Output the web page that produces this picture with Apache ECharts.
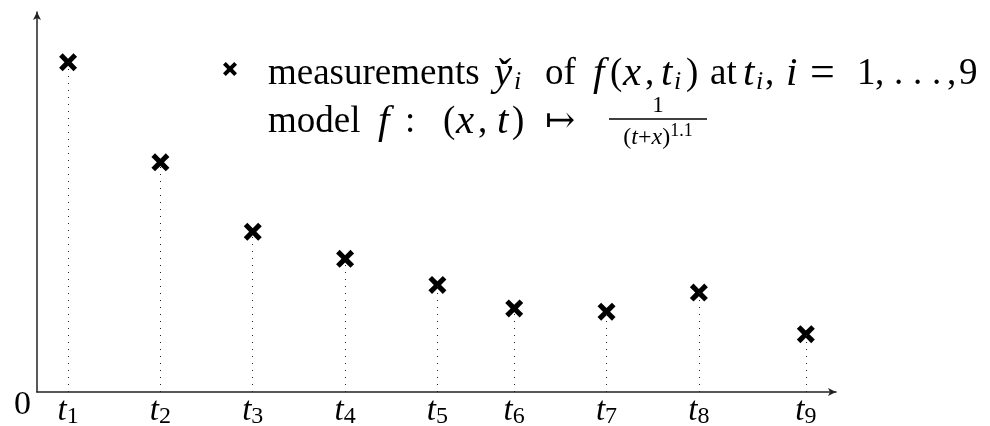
<!DOCTYPE html>
<html>
<head>
<meta charset="utf-8">
<script src="https://cdn.jsdelivr.net/npm/echarts@6/dist/echarts.min.js"></script>
<style>
  html, body { margin: 0; padding: 0; background: #fff; }
  #chart { width: 990px; height: 426px; }
</style>
</head>
<body>
<div id="chart"></div>
<script>
// Sample times t_i and the measured values y_i at those times
const tValues = [0.34, 1.35, 2.36, 3.37, 4.38, 5.22, 6.23, 7.24, 8.41];
const yMeasured = [0.998, 0.695, 0.485, 0.403, 0.324, 0.253, 0.243, 0.301, 0.175];
const tickSubscripts = ['1', '2', '3', '4', '5', '6', '7', '8', '9'];
const originLabel = '0';

// bold "x" marker
const CROSS = 'path://M0,2L2,0L5,3L8,0L10,2L7,5L10,8L8,10L5,7L2,10L0,8L3,5Z';

const SERIF = 'Liberation Serif';
const INK = '#000';
const LH = 40;

const baseStyles = {
  rm:  { fontFamily: SERIF, fontSize: 37, color: INK, lineHeight: LH },
  it:  { fontFamily: SERIF, fontSize: 41, fontStyle: 'italic', color: INK, lineHeight: LH },
  sub: { fontFamily: SERIF, fontSize: 26, fontStyle: 'italic', color: INK, lineHeight: LH, padding: [16, 0, 0, 0] },
  eq:  { fontFamily: SERIF, fontSize: 44, color: INK, lineHeight: LH },
  ar:  { fontFamily: 'DejaVu Serif', fontSize: 36, color: INK, lineHeight: LH }
};

// Build a rich-text string where every piece starts at a set x position.
function typeset(pieces) {
  const rich = {};
  const x0 = pieces[0][2];
  const parts = pieces.map((p, i) => {
    const [text, kind, x] = p;
    const key = kind + i;
    const st = Object.assign({}, baseStyles[kind]);
    if (i < pieces.length - 1) st.width = pieces[i + 1][2] - x;
    rich[key] = st;
    return '{' + key + '|' + text + '}';
  });
  return { text: parts.join(''), rich: rich, left: x0 };
}

// key line 1: measurements y_i of f(x, t_i) at t_i, i = 1, ..., 9
const line1 = typeset([
  ['measurements', 'rm', 268],
  ['y\u030C', 'it', 494],
  ['i', 'sub', 514],
  ['of', 'rm', 545],
  ['f', 'it', 593],
  ['(', 'rm', 610],
  ['x', 'it', 623],
  [',', 'rm', 645],
  ['t', 'it', 661],
  ['i', 'sub', 674],
  [')', 'rm', 686],
  ['at', 'rm', 710],
  ['t', 'it', 743],
  ['i', 'sub', 756],
  [',', 'rm', 765],
  ['i', 'it', 786],
  ['=', 'eq', 810],
  ['1', 'rm', 857],
  [',', 'rm', 875],
  ['.', 'rm', 894],
  ['.', 'rm', 913],
  ['.', 'rm', 932],
  [',', 'rm', 947],
  ['9', 'rm', 959]
]);

// key line 2: model f : (x, t) |->
const line2 = typeset([
  ['model', 'rm', 268],
  ['f', 'it', 378],
  [':', 'rm', 405],
  ['(', 'rm', 443],
  ['x', 'it', 456],
  [',', 'rm', 478],
  ['t', 'it', 497],
  [')', 'rm', 512],
  ['\u21A6', 'ar', 545]
]);

const chart = echarts.init(document.getElementById('chart'), null, { renderer: 'canvas' });

chart.setOption({
  animation: false,
  backgroundColor: '#fff',
  grid: { left: 37, right: 154, top: 12, bottom: 34, containLabel: false, outerBoundsMode: 'none' },
  legend: {
    left: 222,
    top: 62,
    padding: 0,
    icon: CROSS,
    itemWidth: 16,
    itemHeight: 14,
    selectedMode: false,
    formatter: () => ''
  },
  xAxis: {
    type: 'value',
    min: 0,
    max: 8.74,
    splitLine: { show: false },
    axisTick: { show: false },
    axisLine: {
      onZero: false,
      symbol: ['none', 'arrow'],
      symbolSize: [6, 8],
      lineStyle: { color: '#222', width: 1.5 }
    },
    axisLabel: {
      customValues: tValues,
      margin: 1,
      formatter: (v) => '{t|t}{s|' + tickSubscripts[tValues.indexOf(v)] + '}',
      rich: {
        t: { fontFamily: SERIF, fontStyle: 'italic', fontSize: 33, color: INK },
        s: { fontFamily: SERIF, fontSize: 24, color: INK, padding: [12, 0, 0, 0] }
      }
    }
  },
  yAxis: {
    type: 'value',
    min: 0,
    max: 1.15,
    splitLine: { show: false },
    axisTick: { show: false },
    axisLine: {
      onZero: false,
      symbol: ['none', 'arrow'],
      symbolSize: [6, 8],
      lineStyle: { color: '#222', width: 1.5 }
    },
    axisLabel: {
      customValues: [0],
      margin: 6,
      verticalAlign: 'top',
      lineHeight: 26,
      formatter: () => originLabel,
      fontFamily: SERIF,
      fontSize: 34,
      color: INK
    }
  },
  series: [{
    type: 'scatter',
    name: 'measurements',
    data: tValues.map((t, i) => [t, yMeasured[i]]),
    symbol: CROSS,
    symbolSize: 18,
    itemStyle: { color: INK, opacity: 1 },
    z: 3,
    markLine: {
      silent: true,
      symbol: 'none',
      label: { show: false },
      emphasis: { disabled: true },
      lineStyle: { color: '#222', width: 1, type: [1, 6], opacity: 1 },
      data: tValues.map((t, i) => [{ coord: [t, 0] }, { coord: [t, yMeasured[i]] }])
    }
  }],
  graphic: [
    {
      type: 'text',
      left: line1.left,
      top: 52,
      style: { text: line1.text, rich: line1.rich, lineHeight: LH }
    },
    {
      type: 'text',
      left: line2.left,
      top: 102,
      style: { text: line2.text, rich: line2.rich, lineHeight: LH }
    },
    {
      type: 'text',
      x: 658, y: 106,
      style: { text: '1', fontFamily: SERIF, fontSize: 23, fill: INK, align: 'center', verticalAlign: 'middle' }
    },
    {
      type: 'line',
      shape: { x1: 609, y1: 119, x2: 707, y2: 119 },
      style: { stroke: INK, lineWidth: 1.6 }
    },
    {
      type: 'text',
      x: 658, y: 138,
      style: {
        text: '{r|(}{i|t}{r|+}{i|x}{r|)}{sup|1.1}',
        align: 'center',
        verticalAlign: 'middle',
        rich: {
          r: { fontFamily: SERIF, fontSize: 24, color: INK },
          i: { fontFamily: SERIF, fontSize: 24, fontStyle: 'italic', color: INK },
          sup: { fontFamily: SERIF, fontSize: 18, color: INK, padding: [0, 0, 14, 0] }
        }
      }
    }
  ]
});
</script>
</body>
</html>
